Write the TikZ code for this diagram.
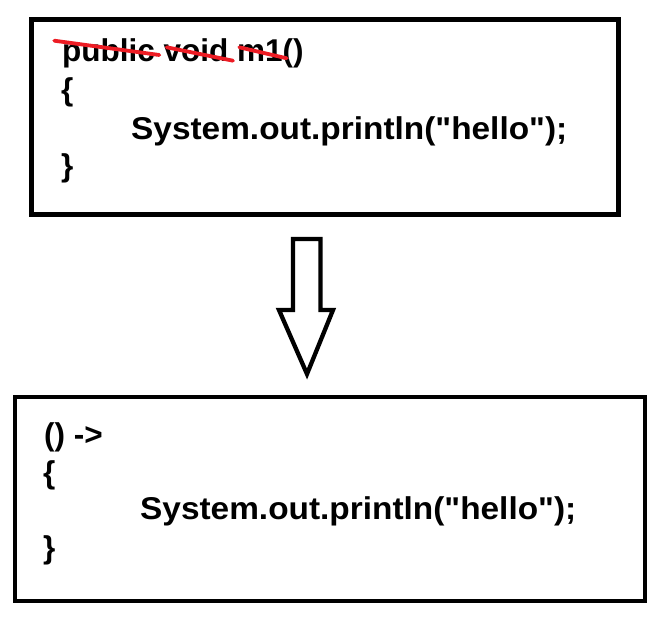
\documentclass[tikz,border=0pt]{standalone}
\usepackage{fontspec}
\setmainfont{Liberation Sans}[Ligatures=TeXOff]
\definecolor{paintred}{HTML}{ED1C24}
\begin{document}
\begin{tikzpicture}[x=1pt,y=-1pt,
  codebox/.style={draw=black, rectangle, inner sep=0pt},
  code/.style={anchor=base west, inner sep=0pt, font=\fontsize{31.5}{38}\selectfont\bfseries},
  strike/.style={draw=paintred, line width=3.8pt, line cap=round},
  blockarrow/.style={draw=black, line width=4.3pt, line join=miter, fill=white}]
\useasboundingbox[fill=white] (0,0) rectangle (666,618);
% boxes
\node[codebox, line width=5pt, minimum width=587pt, minimum height=195pt] (top) at (325,117) {};
\node[codebox, line width=4pt, minimum width=630.5pt, minimum height=204pt] (bot) at (329.75,499) {};
% top code
\node[code] (t1) at (62,62) {public void m1()};
\node[code] (t2) at (61,100) {\{};
\node[code] (t3) at (131,139) {\scalebox{1.06}[1]{System.out.println("hello");}};
\node[code] (t4) at (61,176) {\}};
% strike-through
\coordinate (s1a) at (54.3,40.7); \coordinate (s1b) at (159.3,55);
\coordinate (s2a) at (166.7,47.3); \coordinate (s2b) at (233,60.7);
\coordinate (s3a) at (239.3,47.3); \coordinate (s3b) at (286.7,58.3);
\draw[strike] (s1a) -- (s1b);
\draw[strike] (s2a) -- (s2b);
\draw[strike] (s3a) -- (s3b);
% arrow
\draw[blockarrow] (293,239) -- (320.5,239) -- (320.5,310) -- (333,310) -- (307,374) -- (279,310) -- (293,310) -- cycle;
% bottom code
\node[code] (b1) at (44,445) {() ->};
\node[code] (b2) at (43,483) {\{};
\node[code] (b3) at (140,519) {\scalebox{1.06}[1]{System.out.println("hello");}};
\node[code] (b4) at (43,558) {\}};
\end{tikzpicture}
\end{document}
